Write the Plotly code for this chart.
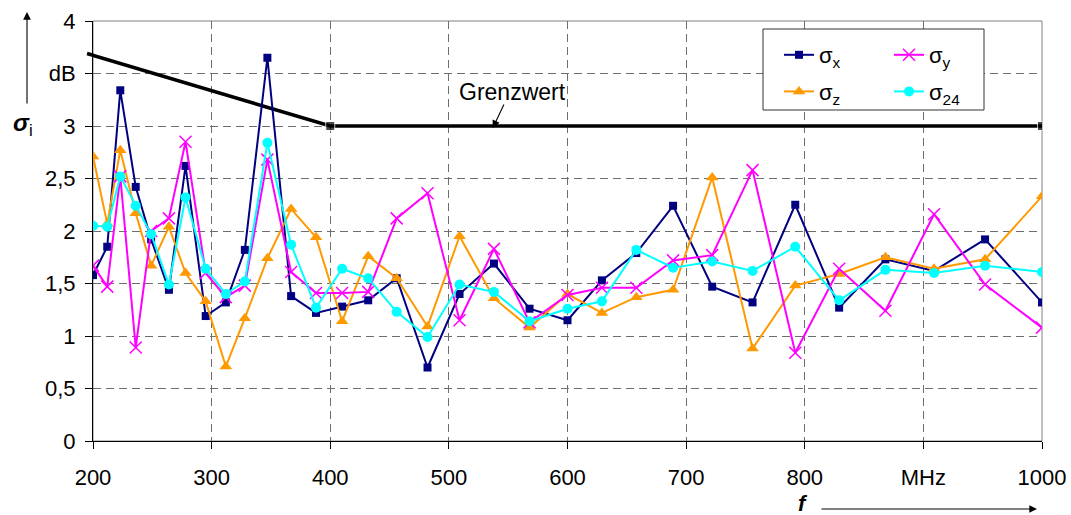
import numpy as np
import plotly.graph_objects as go

# Measurement frequencies (MHz)
freq_mhz = [200, 212, 223, 236, 249, 264, 278, 295, 312, 328, 347, 367, 388, 410, 432, 456,
            482, 509, 538, 568, 600, 629, 658, 689, 722, 756, 792, 829, 868, 909, 952, 1000]

# Standard deviations per field component (dB)
sigma_x = [1.58, 1.85, 3.34, 2.42, 1.92, 1.44, 2.62, 1.19, 1.32, 1.82, 3.65, 1.38, 1.22, 1.28, 1.34, 1.55,
           0.70, 1.40, 1.69, 1.26, 1.15, 1.53, 1.79, 2.24, 1.47, 1.32, 2.25, 1.27, 1.73, 1.62, 1.92, 1.32]
sigma_y = [1.67, 1.47, 2.52, 0.89, 2.00, 2.12, 2.85, 1.60, 1.37, 1.48, 2.68, 1.61, 1.41, 1.41, 1.42, 2.12,
           2.36, 1.15, 1.83, 1.13, 1.39, 1.46, 1.46, 1.72, 1.77, 2.58, 0.84, 1.64, 1.24, 2.16, 1.49, 1.08]
sigma_z = [2.71, 2.07, 2.77, 2.17, 1.67, 2.04, 1.60, 1.33, 0.71, 1.17, 1.74, 2.21, 1.94, 1.14, 1.76, 1.55,
           1.09, 1.95, 1.36, 1.08, 1.40, 1.22, 1.37, 1.44, 2.51, 0.88, 1.48, 1.59, 1.75, 1.64, 1.73, 2.33]
sigma_24 = [2.05, 2.04, 2.52, 2.24, 1.97, 1.49, 2.32, 1.64, 1.40, 1.52, 2.84, 1.87, 1.27, 1.64, 1.55, 1.23,
            0.99, 1.49, 1.42, 1.14, 1.26, 1.33, 1.82, 1.65, 1.71, 1.62, 1.85, 1.34, 1.63, 1.60, 1.67, 1.61]

# Limit line (Grenzwert)
limit_mhz = [195, 400, 1000]
limit_db = [3.69, 3.0, 3.0]

# Axis ticks
x_tickvals = [200, 300, 400, 500, 600, 700, 800, 900, 1000]
x_ticktext = ["200", "300", "400", "500", "600", "700", "800", "MHz", "1000"]
y_tickvals = [0, 0.5, 1, 1.5, 2, 2.5, 3, 3.5, 4]
y_ticktext = ["0", "0,5", "1", "1,5", "2", "2,5", "3", "dB", "4"]

X_RANGE = [200, 1000]
Y_RANGE = [0, 4]
FONT = "Liberation Sans, Arial, sans-serif"

W, H = 1071, 515
ML, MR, MT, MB = 93, 29, 21, 74
PW, PH = W - ML - MR, H - MT - MB


def px_x(p):
    return (p - ML) / PW


def px_y(p):
    return (H - MB - p) / PH


fig = go.Figure()

# limit line: drawn from the data, the part left of the y axis is added as a shape below
fig.add_trace(go.Scatter(
    x=limit_mhz, y=limit_db, mode="lines+markers",
    line=dict(color="black", width=3.6),
    marker=dict(symbol="square", size=[0, 9, 9], color="black"),
    showlegend=False, hoverinfo="skip"))

series = [
    ("σ<sub>x</sub>", sigma_x, "#000080", "square", 8, "legend", dict()),
    ("σ<sub>z</sub>", sigma_z, "#FF9900", "triangle-up", 11, "legend", dict()),
    ("σ<sub>y</sub>", sigma_y, "#FF00FF", "x-thin", 12, "legend2", dict(line=dict(color="#FF00FF", width=1.5))),
    ("σ<sub>24</sub>", sigma_24, "#00FFFF", "circle", 10, "legend2", dict()),
]
for i, (name, vals, color, sym, size, leg, extra) in enumerate(series):
    fig.add_trace(go.Scatter(
        x=freq_mhz, y=vals, name=name, mode="lines+markers",
        line=dict(color=color, width=2),
        marker=dict(symbol=sym, size=size, color=color, **extra),
        legend=leg, legendgroup=str(i)))

# stub of the limit line to the left of the y axis, computed from the limit data
xspan = X_RANGE[1] - X_RANGE[0]
yspan = Y_RANGE[1] - Y_RANGE[0]
y_at_start = float(np.interp(X_RANGE[0], limit_mhz, limit_db))
fig.add_shape(type="line", xref="x domain", yref="y domain",
              x0=(limit_mhz[0] - X_RANGE[0]) / xspan, y0=(limit_db[0] - Y_RANGE[0]) / yspan,
              x1=0, y1=(y_at_start - Y_RANGE[0]) / yspan,
              line=dict(color="black", width=3.6))

# plot area frame (gray) and legend box
fig.add_shape(type="rect", xref="paper", yref="paper", x0=0, y0=0, x1=1, y1=1,
              line=dict(color="#808080", width=1), layer="between")
fig.add_shape(type="rect", xref="paper", yref="paper",
              x0=px_x(763), x1=px_x(984), y0=px_y(110), y1=px_y(29),
              line=dict(color="#333333", width=1), fillcolor="white", layer="above")

grid = dict(showgrid=True, gridcolor="#6e6e6e", gridwidth=1, griddash="8px,5px")
tickfont = dict(family=FONT, size=22, color="black")

fig.update_layout(
    width=W, height=H,
    margin=dict(l=ML, r=MR, t=MT, b=MB, autoexpand=False),
    paper_bgcolor="white", plot_bgcolor="white",
    font=dict(family=FONT, size=22, color="black"),
    xaxis=dict(range=X_RANGE, tickvals=x_tickvals, ticktext=x_ticktext, tickfont=tickfont,
               ticks="outside", ticklen=7, tickcolor="black", tickwidth=1,
               showline=True, linecolor="black", linewidth=1, zeroline=False,
               ticklabelstandoff=10, automargin=False, **grid),
    yaxis=dict(range=Y_RANGE, tickvals=y_tickvals, ticktext=y_ticktext, tickfont=tickfont,
               ticks="outside", ticklen=7, tickcolor="black", tickwidth=1,
               showline=True, linecolor="black", linewidth=1, zeroline=False,
               ticklabelstandoff=5, automargin=False, **grid),
    # inner halves of the crossing tick marks
    xaxis2=dict(range=X_RANGE, overlaying="x", anchor="y", side="bottom", tickvals=x_tickvals,
                ticks="inside", ticklen=7, tickcolor="black", tickwidth=1, automargin=False,
                showticklabels=False, showgrid=False, showline=False, zeroline=False),
    yaxis2=dict(range=Y_RANGE, overlaying="y", anchor="x", side="left", tickvals=y_tickvals,
                ticks="inside", ticklen=7, tickcolor="black", tickwidth=1, automargin=False,
                showticklabels=False, showgrid=False, showline=False, zeroline=False),
    legend=dict(x=px_x(779), y=px_y(34), xanchor="left", yanchor="top",
                bgcolor="rgba(0,0,0,0)", font=dict(family=FONT, size=22),
                tracegroupgap=5, itemwidth=30),
    legend2=dict(x=px_x(889), y=px_y(34), xanchor="left", yanchor="top",
                 bgcolor="rgba(0,0,0,0)", font=dict(family=FONT, size=22),
                 tracegroupgap=5, itemwidth=30),
    showlegend=True,
)

ARROW = dict(showarrow=True, arrowhead=2, arrowsize=1.4, arrowwidth=1.1, arrowcolor="black")
annotations = [
    # Grenzwert label and its pointer to the limit line
    dict(text="Grenzwert", x=554, y=3.32, xref="x", yref="y", showarrow=False,
         xanchor="center", yanchor="middle", font=dict(family=FONT, size=23, color="black")),
    dict(text="", x=537, y=2.98, xref="x", yref="y", ax=547, ay=3.22, axref="x", ayref="y", **ARROW),
    # axis titles
    dict(text="<b><i>f</i></b>", x=px_x(803), y=px_y(504), xref="paper", yref="paper",
         xanchor="center", yanchor="middle", showarrow=False, font=dict(family=FONT, size=22)),
    dict(text="<b><i>σ</i></b><sub>i</sub>", x=px_x(23), y=px_y(124), xref="paper", yref="paper",
         xanchor="center", yanchor="middle", showarrow=False, font=dict(family=FONT, size=24)),
    # axis direction arrows
    dict(text="", x=px_x(1037), y=px_y(509), xref="paper", yref="paper", ax=-217, ay=0, **ARROW),
    dict(text="", x=px_x(27), y=px_y(12), xref="paper", yref="paper", ax=0, ay=93, **ARROW),
]
fig.update_layout(annotations=annotations)

fig.write_html("out.html")
